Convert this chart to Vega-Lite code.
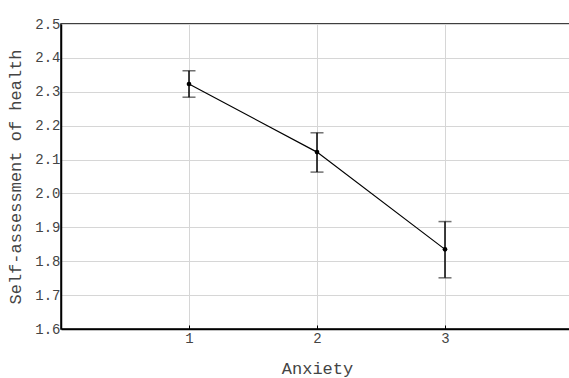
{
  "$schema": "https://vega.github.io/schema/vega-lite/v6.json",
  "autosize": {"type": "none"},
  "width": 512,
  "height": 305,
  "padding": {"left": 61, "top": 24, "right": 0, "bottom": 49},
  "config": {
    "view": {"stroke": "#000", "strokeWidth": 1.5},
    "font": "Liberation Mono",
    "axis": {
      "labelFont": "Liberation Mono",
      "titleFont": "Liberation Mono",
      "labelFontSize": 14,
      "titleFontSize": 17,
      "labelColor": "#444",
      "titleColor": "#444",
      "titleFontWeight": "normal",
      "gridColor": "#d6d6d6",
      "gridWidth": 1,
      "domainColor": "#000",
      "domainWidth": 1.5,
      "tickColor": "#000",
      "labelOverlap": false,
      "labelBound": false,
      "labelFlush": false
    },
    "axisY": {"tickCount": 10}
  },
  "datasets": {
    "stats": [
      {"anxiety": 1, "mean": 2.323, "lo": 2.284, "hi": 2.362},
      {"anxiety": 2, "mean": 2.122, "lo": 2.063, "hi": 2.179},
      {"anxiety": 3, "mean": 1.835, "lo": 1.751, "hi": 1.917}
    ]
  },
  "data": {"name": "stats"},
  "encoding": {
    "x": {
      "field": "anxiety",
      "type": "quantitative",
      "scale": {"domain": [0, 4], "nice": false},
      "axis": {
        "title": "Anxiety",
        "values": [1, 2, 3],
        "format": "d",
        "tickSize": -4,
        "tickColor": "#000",
        "labelFontSize": 14,
        "labelPadding": 6,
        "titlePadding": 15
      }
    },
    "y": {
      "field": "mean",
      "type": "quantitative",
      "scale": {"domain": [1.6, 2.5], "nice": false, "zero": false},
      "axis": {
        "title": "Self-assessment of health",
        "values": [1.6, 1.7, 1.8, 1.9, 2.0, 2.1, 2.2, 2.3, 2.4, 2.5],
        "format": ".1f",
        "tickSize": 0,
        "labelFontSize": 14,
        "labelPadding": 1,
        "titlePadding": 10,
        "labelOverlap": false
      }
    }
  },
  "layer": [
    {
      "mark": {"type": "errorbar", "color": "#000", "ticks": {"size": 13, "thickness": 1.5, "color": "#333"}, "thickness": 1.5},
      "encoding": {
        "y": {"field": "lo", "type": "quantitative", "title": "Self-assessment of health"},
        "y2": {"field": "hi"}
      }
    },
    {
      "mark": {"type": "line", "color": "#000", "strokeWidth": 1.2}
    },
    {
      "mark": {"type": "point", "filled": true, "color": "#000", "size": 22, "opacity": 1}
    }
  ]
}
